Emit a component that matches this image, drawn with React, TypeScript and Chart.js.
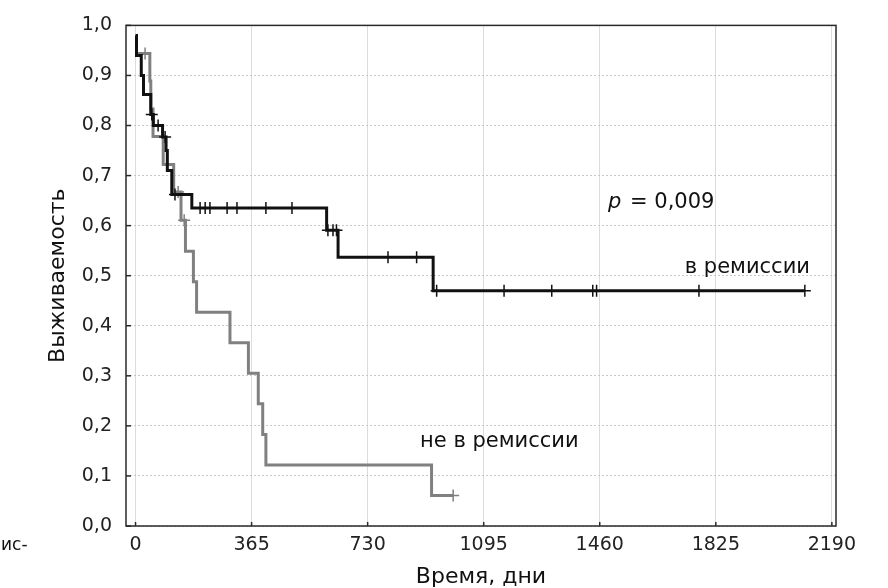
import React, { useEffect, useRef } from 'react';
import { Chart, registerables } from 'chart.js';

Chart.register(...registerables);

const X_TICKS = [0, 365, 730, 1095, 1460, 1825, 2190];
const Y_TICKS = [0, 0.1, 0.2, 0.3, 0.4, 0.5, 0.6, 0.7, 0.8, 0.9, 1.0];
const X_MIN = -30;
const X_MAX = 2203;

// "в ремиссии" – step times (days) and survival after each step
const REMISSION_TIMES = [0, 3, 18, 25, 48, 56, 85, 96, 100, 114, 177, 601, 637, 936, 2105];
const REMISSION_SURVIVAL = [0.98, 0.94, 0.9, 0.862, 0.822, 0.8, 0.777, 0.75, 0.71, 0.662, 0.635, 0.591, 0.537, 0.47, 0.47];
const REMISSION_CENSORED = [51, 71, 93, 124, 203, 219, 234, 288, 319, 410, 492, 605, 621, 632, 794, 884, 947, 1159, 1309, 1438, 1450, 1772, 2105];

// "не в ремиссии"
const NO_REMISSION_TIMES = [0, 45, 48, 55, 87, 120, 143, 157, 182, 192, 297, 355, 386, 400, 410, 931, 999];
const NO_REMISSION_SURVIVAL = [0.944, 0.889, 0.833, 0.778, 0.722, 0.667, 0.611, 0.549, 0.488, 0.427, 0.366, 0.305, 0.244, 0.183, 0.122, 0.061, 0.061];
const NO_REMISSION_CENSORED = [30, 134, 153, 999];

const Y_TITLE = 'Выживаемость';
const X_TITLE = 'Время, дни';
const P_LABEL = '= 0,009';
const LABEL_REMISSION = 'в ремиссии';
const LABEL_NO_REMISSION = 'не в ремиссии';
const STRAY_TEXT = 'ис-';

const FONT = '"DejaVu Sans", "Liberation Sans", sans-serif';

function stepValue(times: number[], vals: number[], t: number) {
  let v = vals[0];
  for (let i = 0; i < times.length; i++) {
    if (times[i] <= t) v = vals[i];
  }
  return v;
}

const decorPlugin = {
  id: 'decor',
  beforeDatasetsDraw(chart: any) {
    const { ctx, chartArea, scales } = chart;
    const { left, right, top, bottom } = chartArea;
    ctx.save();
    ctx.strokeStyle = '#2a2a2a';
    ctx.lineWidth = 1.5;
    ctx.strokeRect(left, top, right - left, bottom - top);
    ctx.lineWidth = 1.5;
    Y_TICKS.forEach((v) => {
      const py = scales.y.getPixelForValue(v);
      ctx.beginPath();
      ctx.moveTo(left, py);
      ctx.lineTo(left + 5, py);
      ctx.stroke();
    });
    X_TICKS.forEach((v) => {
      const px = scales.x.getPixelForValue(v);
      ctx.beginPath();
      ctx.moveTo(px, bottom);
      ctx.lineTo(px, bottom - 4);
      ctx.stroke();
    });
    ctx.restore();
  },
  afterDatasetsDraw(chart: any) {
    const { ctx, scales } = chart;
    const xs = scales.x;
    const ys = scales.y;
    ctx.save();
    ctx.fillStyle = '#111';
    ctx.textBaseline = 'middle';
    // p-value
    let px = xs.getPixelForValue(1486);
    const py = ys.getPixelForValue(0.646);
    ctx.font = `italic 21px ${FONT}`;
    ctx.textAlign = 'left';
    ctx.fillText('p', px, py);
    px += ctx.measureText('p ').width + 2;
    ctx.font = `21px ${FONT}`;
    ctx.fillText(P_LABEL, px, py);
    // group labels
    ctx.textAlign = 'right';
    ctx.fillText(LABEL_REMISSION, xs.getPixelForValue(2121), ys.getPixelForValue(0.516));
    ctx.textAlign = 'left';
    ctx.fillText(LABEL_NO_REMISSION, xs.getPixelForValue(895), ys.getPixelForValue(0.168));
    ctx.restore();
  },
  afterDraw(chart: any) {
    const { ctx } = chart;
    ctx.save();
    ctx.fillStyle = '#111';
    ctx.font = `17px ${FONT}`;
    ctx.textAlign = 'left';
    ctx.textBaseline = 'middle';
    ctx.fillText(STRAY_TEXT, 1, 546);
    ctx.restore();
  },
};

export default function App() {
  const ref = useRef<HTMLCanvasElement | null>(null);

  useEffect(() => {
    if (!ref.current) return;
    const black = '#111111';
    const gray = '#808080';
    const chart = new Chart(ref.current, {
      type: 'line',
      data: {
        datasets: [
          {
            label: 'в ремиссии (цензур.)',
            data: REMISSION_CENSORED.map((t) => ({ x: t, y: stepValue(REMISSION_TIMES, REMISSION_SURVIVAL, t) })),
            showLine: false,
            pointStyle: 'cross',
            pointRadius: 6,
            pointBorderWidth: 1.5,
            pointBorderColor: black,
            borderColor: black,
            order: 0,
          },
          {
            label: 'в ремиссии',
            data: REMISSION_TIMES.map((t, i) => ({ x: t, y: REMISSION_SURVIVAL[i] })),
            stepped: 'before',
            borderColor: black,
            borderWidth: 3,
            pointRadius: 0,
            fill: false,
            order: 1,
          },
          {
            label: 'не в ремиссии (цензур.)',
            data: NO_REMISSION_CENSORED.map((t) => ({ x: t, y: stepValue(NO_REMISSION_TIMES, NO_REMISSION_SURVIVAL, t) })),
            showLine: false,
            pointStyle: 'cross',
            pointRadius: 6,
            pointBorderWidth: 1.5,
            pointBorderColor: gray,
            borderColor: gray,
            order: 2,
          },
          {
            label: 'не в ремиссии',
            data: NO_REMISSION_TIMES.map((t, i) => ({ x: t, y: NO_REMISSION_SURVIVAL[i] })),
            stepped: 'before',
            borderColor: gray,
            borderWidth: 3,
            pointRadius: 0,
            fill: false,
            order: 3,
          },
        ],
      },
      options: {
        animation: false,
        responsive: false,
        maintainAspectRatio: false,
        layout: { padding: { left: 0, top: 20, right: 52, bottom: 0 } },
        plugins: { legend: { display: false }, tooltip: { enabled: false } },
        scales: {
          x: {
            type: 'linear',
            min: X_MIN,
            max: X_MAX,
            afterBuildTicks: (scale: any) => {
              scale.ticks = X_TICKS.map((v) => ({ value: v }));
            },
            afterFit: (scale: any) => {
              scale.height = 62;
            },
            grid: { color: '#dcdcdc', lineWidth: 1, drawTicks: false },
            border: { display: false },
            ticks: {
              padding: 8,
              color: '#222',
              font: { family: FONT, size: 19 },
              maxRotation: 0,
              callback: (v: any) => String(v),
            },
            title: {
              display: true,
              text: X_TITLE,
              color: '#111',
              font: { family: FONT, size: 22, lineHeight: 1 },
              padding: { top: 0, bottom: 0 },
            },
          },
          y: {
            type: 'linear',
            min: 0,
            max: 1,
            afterBuildTicks: (scale: any) => {
              scale.ticks = Y_TICKS.map((v) => ({ value: v }));
            },
            afterFit: (scale: any) => {
              scale.width = 126;
            },
            grid: { color: '#c8c8c8', lineWidth: 1, drawTicks: false },
            border: { display: false, dash: [2, 2] },
            ticks: {
              padding: 14,
              color: '#222',
              font: { family: FONT, size: 19 },
              callback: (v: any) => Number(v).toFixed(1).replace('.', ','),
            },
            title: {
              display: true,
              text: Y_TITLE,
              color: '#111',
              font: { family: FONT, size: 22, lineHeight: 1 },
              padding: { top: 47, bottom: 0 },
            },
          },
        },
      },
      plugins: [decorPlugin],
    } as any);
    return () => chart.destroy();
  }, []);

  return (
    <div style={{ position: 'absolute', left: 0, top: 0, width: 888, height: 588, background: '#fff' }}>
      <canvas ref={ref} width={888} height={588} style={{ width: 888, height: 588 }} />
    </div>
  );
}
